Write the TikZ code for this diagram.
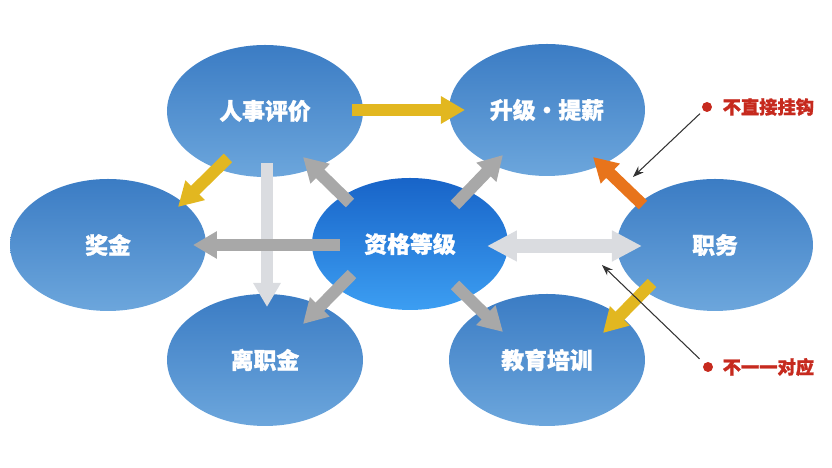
\documentclass[tikz,border=0pt]{standalone}
\usepackage{fontspec}
\newfontfamily\cjk[FakeBold=1.2]{Noto Sans CJK SC}
\usetikzlibrary{arrows.meta,shapes.geometric,positioning}
\definecolor{bluetop}{HTML}{3B7CC4}
\definecolor{bluebot}{HTML}{6CA6DC}
\definecolor{coretop}{HTML}{1864C8}
\definecolor{corebot}{HTML}{3C9EF2}
\definecolor{arryel}{HTML}{E2B720}
\definecolor{arrgray}{HTML}{A8A8A8}
\definecolor{arrlight}{HTML}{DADCE0}
\definecolor{arrorange}{HTML}{E8741B}
\definecolor{notered}{HTML}{C62A1E}
\tikzset{
  bub/.style={ellipse, inner sep=0pt, minimum width=19.6mm, minimum height=13.2mm,
    top color=bluetop, bottom color=bluebot, text=white,
    font=\cjk\bfseries\fontsize{6.5pt}{7pt}\selectfont},
  core/.style={bub, top color=coretop, bottom color=corebot},
  fat/.style={line width=1.2mm, -{Triangle[width=2.6mm,length=2.4mm]}},
  dot/.style={circle, fill=notered, inner sep=0pt, minimum size=1mm},
  note/.style={text=notered, inner sep=0pt, anchor=west,
    font=\cjk\bfseries\fontsize{5.2pt}{6pt}\selectfont},
  pointer/.style={draw=black!80, line width=0.3pt, -{Stealth[length=1.1mm,width=0.8mm]}}
}
\begin{document}
\begin{tikzpicture}[x=0.1mm, y=-0.1mm]
      \useasboundingbox (0,0) rectangle (832,468);
      \draw
        (265,111) node[bub] (rs){人事评价}
        (547,110) node[bub] (sj){升级・提薪}
        (108,245) node[bub] (jj){奖金}
        (715,245) node[bub] (zw){职务}
        (265,360) node[bub] (lz){离职金}
        (547,360) node[bub] (jy){教育培训}
        (410,244) node[core] (zg){资格等级};
      \begin{scope}[fat]
        \draw[arryel] ([shift={(87,-1)}]rs.center) to ([shift={(-82,0)}]sj.center);
        \draw[arryel] ([shift={(-37,47)}]rs.center) to ([shift={(70,-38)}]jj.center);
        \draw[arrlight] ([shift={(2,52)}]rs.center) to ([shift={(2,-53)}]lz.center);
        \draw[arrgray] ([shift={(-60,-41)}]zg.center) to ([shift={(38,46)}]rs.center);
        \draw[arrgray] ([shift={(45,-39)}]zg.center) to ([shift={(-44,45)}]sj.center);
        \draw[arrgray] ([shift={(-70,1)}]zg.center) to ([shift={(85,0)}]jj.center);
        \draw[arrgray] ([shift={(-58,30)}]zg.center) to ([shift={(38,-36)}]lz.center);
        \draw[arrgray] ([shift={(45,41)}]zg.center) to ([shift={(-44,-28)}]jy.center);
        \draw[arrorange] ([shift={(-72,-40)}]zw.center) to ([shift={(46,47)}]sj.center);
        \draw[arryel] ([shift={(-63,38)}]zw.center) to ([shift={(56,-27)}]jy.center);
        \draw[arrlight, line width=1.4mm, {Triangle[width=2.9mm,length=3mm]}-{Triangle[width=2.9mm,length=3mm]}]
          ([shift={(77,2)}]zg.center) to ([shift={(-73,1)}]zw.center);
      \end{scope}
      \node[dot] (d1) at (707,107) {};
      \node[note] (n1) at (722,107) {不直接挂钩};
      \node[dot] (d2) at (708,367) {};
      \node[note] (n2) at (722,367) {不一一对应};
      \coordinate (p1) at (633,177);
      \coordinate (p2) at (602,265);
      \draw[pointer, shorten <=0.4mm] (d1) to (p1);
      \draw[pointer, shorten <=0.6mm] (d2) to (p2);
    \end{tikzpicture}
\end{document}
